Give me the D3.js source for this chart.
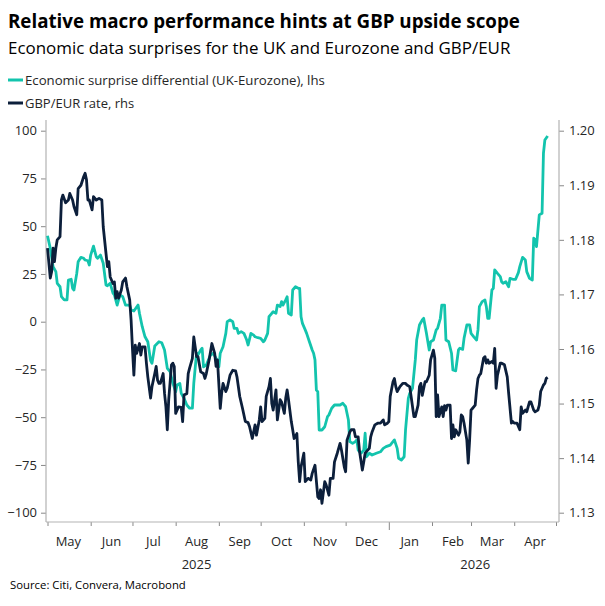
<!DOCTYPE html>
<html>
<head>
<meta charset="utf-8">
<script src="https://cdn.jsdelivr.net/npm/d3@7"></script>
<style>
  body { margin: 0; background: #fff; }
  svg { font-family: "Open Sans", sans-serif; }
</style>
</head>
<body>
<div id="chart"></div>
<script>
// Economic surprise differential (UK-Eurozone), lhs
const surprise = [
  ["2025-05-01",45],["2025-05-03",38.4],["2025-05-05",28.8],["2025-05-07",26.2],["2025-05-08",20.1],
  ["2025-05-10",18.3],["2025-05-11",13.1],["2025-05-13",11.4],["2025-05-15",11.4],["2025-05-16",21.8],
  ["2025-05-18",22.2],["2025-05-19",17.5],["2025-05-20",16.6],["2025-05-22",25.3],["2025-05-23",31.4],
  ["2025-05-25",33.7],["2025-05-27",33.2],["2025-05-28",32.3],["2025-05-30",31.9],["2025-05-31",29.7],
  ["2025-06-01",34.9],["2025-06-03",39.6],["2025-06-05",34],["2025-06-06",33.2],["2025-06-08",34.9],
  ["2025-06-10",30.6],["2025-06-12",19.2],["2025-06-13",18.8],["2025-06-15",20.1],["2025-06-17",14.9],
  ["2025-06-18",14],["2025-06-20",8.7],["2025-06-22",14],["2025-06-24",13.1],["2025-06-26",8.7],
  ["2025-06-29",8.7],["2025-06-30",6.1],["2025-07-02",5.6],["2025-07-05",8.7],["2025-07-06",4.4],
  ["2025-07-08",-2.6],["2025-07-10",-7.9],["2025-07-12",-10.5],["2025-07-14",-20.4],["2025-07-15",-21.8],
  ["2025-07-17",-12.7],["2025-07-20",-10.5],["2025-07-22",-11],["2025-07-24",-14.8],["2025-07-26",-24.4],
  ["2025-07-28",-26.2],["2025-07-30",-32.3],["2025-08-01",-36.6],["2025-08-02",-33.1],["2025-08-04",-32.3],
  ["2025-08-05",-37.5],["2025-08-07",-40.1],["2025-08-09",-43.6],["2025-08-11",-45.3],["2025-08-13",-45.3],
  ["2025-08-14",-32.3],["2025-08-16",-16.5],["2025-08-17",-17.4],["2025-08-19",-14.8],["2025-08-20",-13.9],
  ["2025-08-21",-23.6],["2025-08-23",-22.7],["2025-08-25",-19.2],["2025-08-26",-17.4],["2025-08-28",-16.5],
  ["2025-08-30",-19.2],["2025-09-01",-23.6],["2025-09-02",-16.5],["2025-09-04",-13.1],["2025-09-06",-6.1],
  ["2025-09-07",0],["2025-09-09",0.9],["2025-09-11",0],["2025-09-12",-3.5],["2025-09-14",-3.5],
  ["2025-09-15",-6.1],["2025-09-17",-5.2],["2025-09-19",-6.1],["2025-09-21",-9.6],["2025-09-22",-12.2],
  ["2025-09-24",-6.1],["2025-09-26",-7],["2025-09-27",-7.9],["2025-09-29",-8.4],["2025-10-01",-8.7],
  ["2025-10-03",-10.5],["2025-10-04",-9.6],["2025-10-06",-6.1],["2025-10-07",2.6],["2025-10-09",4.4],
  ["2025-10-10",5.2],["2025-10-12",4.4],["2025-10-13",8.7],["2025-10-15",7.9],["2025-10-16",10.5],
  ["2025-10-17",8.7],["2025-10-19",11.4],["2025-10-20",13.1],["2025-10-21",4.4],["2025-10-23",3.5],
  ["2025-10-24",16.6],["2025-10-26",18.3],["2025-10-28",17.5],["2025-10-29",17.5],["2025-10-30",2.6],
  ["2025-10-31",-0.9],["2025-11-02",-4.3],["2025-11-03",-6.1],["2025-11-05",-10.5],["2025-11-07",-14.8],
  ["2025-11-08",-16.5],["2025-11-09",-20],["2025-11-10",-35.8],["2025-11-11",-36.6],["2025-11-12",-56.7],
  ["2025-11-14",-56.7],["2025-11-16",-55],["2025-11-18",-49.7],["2025-11-19",-48.8],["2025-11-21",-45.3],
  ["2025-11-23",-43.6],["2025-11-25",-43.6],["2025-11-27",-43.6],["2025-11-29",-42.7],["2025-12-01",-44.5],
  ["2025-12-03",-51.5],["2025-12-04",-62.8],["2025-12-06",-63.7],["2025-12-08",-62.8],["2025-12-09",-61.9],
  ["2025-12-10",-67.2],["2025-12-12",-68.9],["2025-12-14",-67.2],["2025-12-15",-58.4],["2025-12-16",-70.7],
  ["2025-12-18",-68.9],["2025-12-20",-69.8],["2025-12-23",-68.9],["2025-12-26",-68.1],["2025-12-28",-66.3],
  ["2025-12-30",-65.4],["2026-01-02",-64.6],["2026-01-04",-62.8],["2026-01-05",-61.9],["2026-01-07",-66.3],
  ["2026-01-08",-71.5],["2026-01-10",-72.4],["2026-01-12",-70.7],["2026-01-13",-56.7],["2026-01-15",-40.1],
  ["2026-01-16",-37.5],["2026-01-18",-34.9],["2026-01-20",-20],["2026-01-21",-9.6],["2026-01-23",-1.7],
  ["2026-01-25",0.9],["2026-01-26",1.8],["2026-01-28",-6.1],["2026-01-30",-14.8],["2026-01-31",-10.5],
  ["2026-02-02",-9.6],["2026-02-04",-4.3],["2026-02-05",-3.5],["2026-02-07",1.8],["2026-02-08",8.7],
  ["2026-02-10",8.7],["2026-02-11",-9.6],["2026-02-13",-10.5],["2026-02-15",-16.5],["2026-02-16",-25.3],
  ["2026-02-18",-25.7],["2026-02-20",-14.8],["2026-02-21",-13.9],["2026-02-23",-14.5],["2026-02-24",-8.7],
  ["2026-02-26",-1.7],["2026-02-28",-1.7],["2026-03-01",-6.1],["2026-03-03",-7.9],["2026-03-05",-9.6],
  ["2026-03-06",-4.3],["2026-03-07",7.9],["2026-03-09",10.5],["2026-03-11",11.4],["2026-03-12",7.9],
  ["2026-03-13",1.8],["2026-03-14",1.8],["2026-03-16",16.6],["2026-03-17",17.5],["2026-03-18",27.1],
  ["2026-03-20",25.3],["2026-03-22",23.6],["2026-03-23",20.9],["2026-03-24",20.1],["2026-03-26",20.9],
  ["2026-03-28",18.3],["2026-03-29",22.7],["2026-03-31",22.2],["2026-04-02",22.2],["2026-04-04",25.7],
  ["2026-04-05",28.8],["2026-04-07",33.7],["2026-04-09",32.3],["2026-04-10",26.2],["2026-04-12",22.7],
  ["2026-04-14",21.8],["2026-04-15",43.7],["2026-04-16",42.8],["2026-04-17",39.3],["2026-04-19",55.9],
  ["2026-04-21",56.8],["2026-04-22",88.2],["2026-04-23",95.1],["2026-04-25",97.2]
];

// GBP/EUR rate, rhs
const gbpeur = [
  ["2025-05-01",1.1785],["2025-05-03",1.1730],["2025-05-04",1.1742],["2025-05-05",1.1785],["2025-05-06",1.1760],
  ["2025-05-07",1.1785],["2025-05-08",1.1800],["2025-05-10",1.1806],["2025-05-11",1.1873],["2025-05-12",1.1882],
  ["2025-05-14",1.1868],["2025-05-16",1.1873],["2025-05-17",1.1885],["2025-05-19",1.1873],["2025-05-20",1.1861],
  ["2025-05-22",1.1846],["2025-05-23",1.1894],["2025-05-25",1.1900],["2025-05-27",1.1916],["2025-05-28",1.1922],
  ["2025-05-29",1.1910],["2025-05-30",1.1873],["2025-05-31",1.1873],["2025-06-02",1.1855],["2025-06-03",1.1879],
  ["2025-06-05",1.1873],["2025-06-07",1.1876],["2025-06-09",1.1873],["2025-06-10",1.1824],["2025-06-12",1.1775],
  ["2025-06-13",1.1751],["2025-06-14",1.1760],["2025-06-15",1.1732],["2025-06-17",1.1720],["2025-06-18",1.1723],
  ["2025-06-19",1.1693],["2025-06-20",1.1705],["2025-06-21",1.1693],["2025-06-23",1.1708],["2025-06-24",1.1723],
  ["2025-06-26",1.1730],["2025-06-27",1.1714],["2025-06-29",1.1690],["2025-06-30",1.1653],["2025-07-01",1.1600],
  ["2025-07-02",1.1552],["2025-07-03",1.1607],["2025-07-04",1.1592],["2025-07-06",1.1610],["2025-07-07",1.1589],
  ["2025-07-08",1.1604],["2025-07-10",1.1604],["2025-07-11",1.1574],["2025-07-12",1.1549],["2025-07-14",1.1510],
  ["2025-07-15",1.1531],["2025-07-17",1.1555],["2025-07-18",1.1568],["2025-07-19",1.1543],["2025-07-20",1.1537],
  ["2025-07-21",1.1537],["2025-07-23",1.1555],["2025-07-24",1.1519],["2025-07-25",1.1494],["2025-07-26",1.1452],
  ["2025-07-27",1.1507],["2025-07-29",1.1571],["2025-07-30",1.1574],["2025-07-31",1.1568],["2025-08-01",1.1482],
  ["2025-08-03",1.1494],["2025-08-05",1.1493],["2025-08-06",1.1467],["2025-08-07",1.1516],["2025-08-09",1.1518],
  ["2025-08-10",1.1555],["2025-08-11",1.1565],["2025-08-13",1.1583],["2025-08-14",1.1622],["2025-08-16",1.1586],
  ["2025-08-17",1.1586],["2025-08-19",1.1558],["2025-08-21",1.1555],["2025-08-22",1.1546],["2025-08-23",1.1555],
  ["2025-08-25",1.1580],["2025-08-27",1.1610],["2025-08-29",1.1592],["2025-08-30",1.1568],["2025-08-31",1.1580],
  ["2025-09-02",1.1491],["2025-09-03",1.1519],["2025-09-04",1.1537],["2025-09-06",1.1522],["2025-09-07",1.1528],
  ["2025-09-09",1.1552],["2025-09-11",1.1561],["2025-09-13",1.1560],["2025-09-14",1.1549],["2025-09-16",1.1513],
  ["2025-09-18",1.1491],["2025-09-20",1.1467],["2025-09-22",1.1465],["2025-09-23",1.1458],["2025-09-25",1.1436],
  ["2025-09-27",1.1461],["2025-09-28",1.1442],["2025-09-30",1.1470],["2025-10-01",1.1494],["2025-10-02",1.1467],
  ["2025-10-04",1.1473],["2025-10-05",1.1513],["2025-10-07",1.1531],["2025-10-08",1.1546],["2025-10-09",1.1500],
  ["2025-10-10",1.1488],["2025-10-12",1.1525],["2025-10-13",1.1470],["2025-10-15",1.1507],["2025-10-16",1.1503],
  ["2025-10-18",1.1482],["2025-10-19",1.1510],["2025-10-20",1.1525],["2025-10-21",1.1507],["2025-10-23",1.1467],
  ["2025-10-24",1.1452],["2025-10-25",1.1436],["2025-10-27",1.1445],["2025-10-28",1.1393],["2025-10-29",1.1357],
  ["2025-10-30",1.1384],["2025-11-01",1.1409],["2025-11-02",1.1357],["2025-11-04",1.1363],["2025-11-06",1.1360],
  ["2025-11-07",1.1372],["2025-11-09",1.1387],["2025-11-11",1.1329],["2025-11-12",1.1326],["2025-11-13",1.1342],
  ["2025-11-14",1.1317],["2025-11-16",1.1357],["2025-11-17",1.1351],["2025-11-19",1.1332],["2025-11-20",1.1363],
  ["2025-11-22",1.1363],["2025-11-23",1.1393],["2025-11-25",1.1409],["2025-11-27",1.1427],["2025-11-28",1.1415],
  ["2025-11-30",1.1384],["2025-12-01",1.1375],["2025-12-02",1.1433],["2025-12-04",1.1448],["2025-12-05",1.1452],
  ["2025-12-07",1.1452],["2025-12-08",1.1439],["2025-12-10",1.1439],["2025-12-11",1.1412],["2025-12-13",1.1378],
  ["2025-12-14",1.1393],["2025-12-15",1.1409],["2025-12-17",1.1415],["2025-12-18",1.1418],["2025-12-19",1.1439],
  ["2025-12-20",1.1448],["2025-12-22",1.1461],["2025-12-24",1.1464],["2025-12-26",1.1464],["2025-12-28",1.1470],
  ["2025-12-29",1.1461],["2025-12-31",1.1464],["2026-01-01",1.1467],["2026-01-02",1.1513],["2026-01-04",1.1540],
  ["2026-01-05",1.1546],["2026-01-06",1.1531],["2026-01-07",1.1522],["2026-01-09",1.1531],["2026-01-11",1.1537],
  ["2026-01-13",1.1537],["2026-01-14",1.1534],["2026-01-16",1.1531],["2026-01-17",1.1513],["2026-01-19",1.1476],
  ["2026-01-20",1.1476],["2026-01-22",1.1497],["2026-01-23",1.1531],["2026-01-24",1.1537],["2026-01-25",1.1515],
  ["2026-01-27",1.1540],["2026-01-28",1.1540],["2026-01-30",1.1552],["2026-01-31",1.1580],["2026-02-02",1.1598],
  ["2026-02-03",1.1583],["2026-02-04",1.1476],["2026-02-05",1.1516],["2026-02-06",1.1476],["2026-02-08",1.1494],
  ["2026-02-09",1.1476],["2026-02-10",1.1496],["2026-02-11",1.1488],["2026-02-12",1.1497],["2026-02-14",1.1497],
  ["2026-02-15",1.1436],["2026-02-16",1.1461],["2026-02-17",1.1439],["2026-02-18",1.1452],["2026-02-20",1.1442],
  ["2026-02-21",1.1448],["2026-02-22",1.1479],["2026-02-23",1.1476],["2026-02-24",1.1464],["2026-02-26",1.1433],
  ["2026-02-27",1.1391],["2026-02-28",1.1433],["2026-03-01",1.1488],["2026-03-02",1.1491],["2026-03-04",1.1497],
  ["2026-03-05",1.1525],["2026-03-06",1.1546],["2026-03-07",1.1552],["2026-03-08",1.1555],["2026-03-10",1.1583],
  ["2026-03-11",1.1586],["2026-03-12",1.1574],["2026-03-13",1.1580],["2026-03-14",1.1574],["2026-03-16",1.1577],
  ["2026-03-17",1.1574],["2026-03-18",1.1601],["2026-03-19",1.1528],["2026-03-20",1.1552],["2026-03-22",1.1574],
  ["2026-03-23",1.1574],["2026-03-25",1.1571],["2026-03-27",1.1549],["2026-03-28",1.1519],["2026-03-30",1.1464],
  ["2026-03-31",1.1467],["2026-04-01",1.1464],["2026-04-03",1.1464],["2026-04-05",1.1452],["2026-04-06",1.1494],
  ["2026-04-07",1.1482],["2026-04-09",1.1488],["2026-04-10",1.1485],["2026-04-12",1.1503],["2026-04-13",1.1503],
  ["2026-04-15",1.1488],["2026-04-16",1.1485],["2026-04-18",1.1488],["2026-04-19",1.1497],["2026-04-20",1.1522],
  ["2026-04-22",1.1534],["2026-04-23",1.1537],["2026-04-24",1.1546],["2026-04-25",1.1548]
];

const leftTicks = [100, 75, 50, 25, 0, -25, -50, -75, -100];
const rightTicks = [1.20, 1.19, 1.18, 1.17, 1.16, 1.15, 1.14, 1.13];
const monthLabels = ["May","Jun","Jul","Aug","Sep","Oct","Nov","Dec","Jan","Feb","Mar","Apr"];
const yearLabels = [["2025","2025-08-16"], ["2026","2026-03-04"]];
const legendItems = ["Economic surprise differential (UK-Eurozone), lhs", "GBP/EUR rate, rhs"];

const teal = "#13c4ad";
const navy = "#0c1f3b";
const axisGrey = "#b3b3b3";
const textCol = "#262626";

const parse = d3.timeParse("%Y-%m-%d");
surprise.forEach(d => d.date = parse(d[0]));
gbpeur.forEach(d => d.date = parse(d[0]));

const W = 605, H = 606;
const svg = d3.select("#chart").append("svg")
  .attr("width", W)
  .attr("height", H);

// fit a text to a measured width by scaling its font size
function fit(sel, w) {
  const len = sel.node().getComputedTextLength();
  const fs = parseFloat(sel.attr("font-size"));
  sel.attr("font-size", (fs * w / len).toFixed(2));
}

const title = svg.append("text")
  .attr("x", 8).attr("y", 28)
  .attr("font-size", 20).attr("font-weight", 700)
  .attr("fill", "#000")
  .text("Relative macro performance hints at GBP upside scope");
fit(title, 512);

const sub = svg.append("text")
  .attr("x", 8).attr("y", 54)
  .attr("font-size", 17)
  .attr("fill", "#000")
  .text("Economic data surprises for the UK and Eurozone and GBP/EUR");
fit(sub, 503);

// legend
const legend = svg.append("g");
legendItems.forEach((t, i) => {
  const y = 80 + i * 23;
  legend.append("line")
    .attr("x1", 8).attr("x2", 23)
    .attr("y1", y).attr("y2", y)
    .attr("stroke", i === 0 ? teal : navy)
    .attr("stroke-width", 3);
  const lt = legend.append("text")
    .attr("x", 25).attr("y", y + 4.5)
    .attr("font-size", 13)
    .attr("fill", textCol)
    .text(t);
  if (i === 0) fit(lt, 300);
});

// scales
const x = d3.scaleTime()
  .domain([parse("2025-05-01"), parse("2026-05-01")])
  .range([47.5, 556]);

const yL = d3.scaleLinear()
  .domain([-100, 100])
  .range([512.7, 130.7]);

const yR = d3.scaleLinear()
  .domain([1.13, 1.20])
  .range([512.7, 130.7]);

const plotTop = 120, plotBottom = 522, plotLeft = 46, plotRight = 559;

// left axis
const gL = svg.append("g")
  .attr("transform", `translate(${plotLeft},0)`)
  .call(d3.axisLeft(yL).tickValues(leftTicks).tickSize(5).tickPadding(4));
gL.select(".domain").remove();

// right axis
const gR = svg.append("g")
  .attr("transform", `translate(${plotRight},0)`)
  .call(d3.axisRight(yR).tickValues(rightTicks).tickSize(5).tickPadding(5).tickFormat(d3.format(".2f")));
gR.select(".domain").remove();

// bottom axis (month boundaries)
const months = d3.timeMonth.range(parse("2025-05-01"), parse("2026-05-02"));
const gB = svg.append("g")
  .attr("transform", `translate(0,${plotBottom})`)
  .call(d3.axisBottom(x).tickValues(months).tickSize(4).tickFormat(""));
gB.select(".domain").remove();
gB.selectAll(".tick line")
  .attr("y2", d => d.getMonth() === 0 ? 8 : 4);

[gL, gR, gB].forEach(g => {
  g.selectAll(".tick line").attr("stroke", "#888");
  g.selectAll(".tick text")
    .attr("font-size", 13)
    .attr("fill", textCol)
    .attr("font-family", "Open Sans, sans-serif");
});

// axis frame lines
svg.append("line")
  .attr("x1", plotLeft).attr("x2", plotLeft)
  .attr("y1", plotTop).attr("y2", plotBottom)
  .attr("stroke", axisGrey).attr("stroke-width", 1.2);
svg.append("line")
  .attr("x1", plotRight).attr("x2", plotRight)
  .attr("y1", plotTop).attr("y2", plotBottom)
  .attr("stroke", axisGrey).attr("stroke-width", 1.2);
svg.append("line")
  .attr("x1", plotLeft).attr("x2", plotRight)
  .attr("y1", plotBottom).attr("y2", plotBottom)
  .attr("stroke", axisGrey).attr("stroke-width", 1.2);

// month labels centred in each month
svg.append("g").selectAll("text")
  .data(months.slice(0, 12))
  .join("text")
  .attr("x", d => x(d3.timeDay.offset(d, 15)))
  .attr("y", 546)
  .attr("text-anchor", "middle")
  .attr("font-size", 13)
  .attr("fill", textCol)
  .text((d, i) => monthLabels[i]);

svg.append("g").selectAll("text")
  .data(yearLabels)
  .join("text")
  .attr("x", d => x(parse(d[1])))
  .attr("y", 569)
  .attr("text-anchor", "middle")
  .attr("font-size", 13)
  .attr("fill", textCol)
  .text(d => d[0]);

// lines
svg.append("path")
  .datum(surprise)
  .attr("fill", "none")
  .attr("stroke", teal)
  .attr("stroke-width", 2.8)
  .attr("stroke-linejoin", "round")
  .attr("d", d3.line().x(d => x(d.date)).y(d => yL(d[1])));

svg.append("path")
  .datum(gbpeur)
  .attr("fill", "none")
  .attr("stroke", navy)
  .attr("stroke-width", 2.8)
  .attr("stroke-linejoin", "round")
  .attr("d", d3.line().x(d => x(d.date)).y(d => yR(d[1])));

// source
const src = svg.append("text")
  .attr("x", 10).attr("y", 589)
  .attr("font-size", 11)
  .attr("fill", "#000")
  .text("Source: Citi, Convera, Macrobond");
fit(src, 176);
</script>
</body>
</html>
